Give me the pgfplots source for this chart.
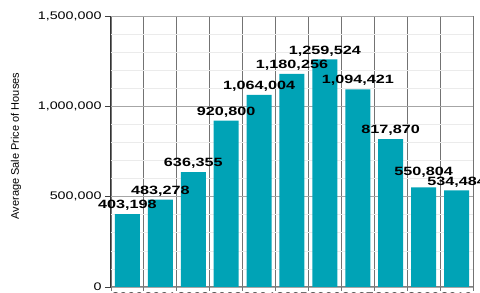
\documentclass[border=0pt]{standalone}
\usepackage{fontspec}
\setmainfont{Liberation Sans}
\newfontfamily\widefont{Liberation Sans}[FakeStretch=1.3]
\newfontfamily\widebold{Liberation Sans Bold}[FakeStretch=1.35]
\usepackage{pgfplots}
\usepackage{pgfplotstable}
\pgfplotsset{compat=1.18}
\definecolor{barteal}{RGB}{0,163,182}
\pgfplotstableread{
x  y        lab        dy
0  403198   403,198    0
1  483278   483,278    0
2  636355   636,355    0
3  920800   920,800    0
4  1064004  1,064,004  0
5  1180256  1,180,256  0
6  1259524  1,259,524  0
7  1094421  1,094,421  0
8  817870   817,870    0
9  550804   550,804    7
10 534484   534,484    0
}\prices
\begin{document}
\begin{tikzpicture}
\begin{axis}[
  name=ax,
  scale only axis,
  width=362pt, height=271pt,
  xmin=-0.5, xmax=10.5,
  ymin=0, ymax=1500000,
  axis x line*=bottom, axis y line*=left,
  x axis line style={draw=black!50, line width=1pt},
  y axis line style={draw=black!80, line width=1pt},
  xtick={0,...,10},
  xticklabels={2000,2001,2002,2003,2004,2005,2006,2007,2008,2009,2010},
  major x tick style={draw=none},
  minor xtick={-0.5,0.5,...,10.5},
  minor x tick style={draw=black!55, line width=0.9pt},
  minor tick length=4pt,
  xminorgrids,
  minor x grid style={draw=black!55, line width=0.9pt},
  ytick={0,500000,1000000,1500000},
  minor ytick={100000,200000,300000,400000,600000,700000,800000,900000,1100000,1200000,1300000,1400000},
  minor y tick style={draw=none},
  ymajorgrids, yminorgrids,
  major y grid style={draw=black!35, line width=0.8pt},
  minor y grid style={draw=black!8, line width=0.6pt},
  major y tick style={draw=black!75, line width=0.8pt},
  major tick length=6pt,
  tick align=outside,
  /pgf/number format/assume math mode=true,
  scaled y ticks=false,
  yticklabel={\widefont\fontsize{11}{12}\selectfont\pgfmathprintnumber[fixed,precision=0,1000 sep={,}]{\tick}},
  xticklabel style={font=\widefont\fontsize{11}{12}\selectfont, inner sep=0pt, yshift=0pt},
  ylabel={Average Sale Price of Houses},
  ylabel style={font=\fontsize{11}{12}\selectfont, at={(axis description cs:-0.262,0.52)}, anchor=center},
  ybar, bar width=25pt,
  point meta=explicit symbolic,
  visualization depends on={\thisrow{dy} \as \labdy},
  nodes near coords={\pgfplotspointmeta},
  nodes near coords style={font=\widebold\fontsize{12}{13}\selectfont, text=black, anchor=south, yshift=\labdy pt},
  clip=false,
]
\addplot[fill=barteal, draw=none] table[x=x, y=y, meta=lab] {\prices};
\end{axis}
\pgfresetboundingbox
\path[use as bounding box] ([xshift=-111pt,yshift=-6pt]ax.south west) rectangle ([xshift=7pt,yshift=16pt]ax.north east);
\end{tikzpicture}
\end{document}
